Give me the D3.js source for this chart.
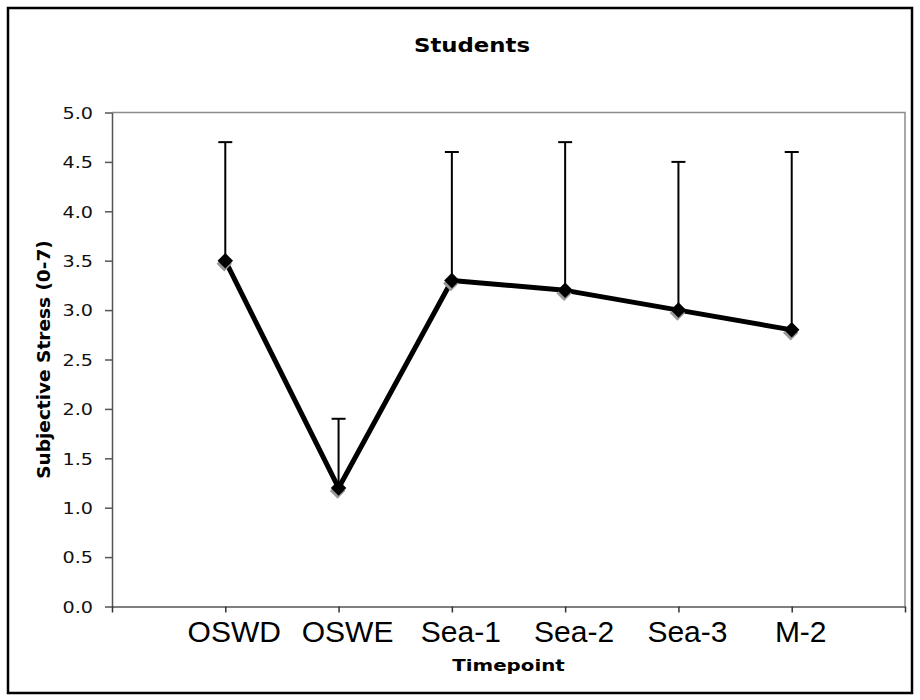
<!DOCTYPE html>
<html>
<head>
<meta charset="utf-8">
<script src="https://cdn.jsdelivr.net/npm/d3@7"></script>
<style>
  html, body { margin: 0; padding: 0; background: #fff; }
  svg { display: block; }
</style>
</head>
<body>
<svg id="chart" width="920" height="700"></svg>
<script>
// Subjective stress ratings for students across timepoints (mean with upper error bar)
const categories = ["OSWD", "OSWE", "Sea-1", "Sea-2", "Sea-3", "M-2"];
const means = [3.5, 1.2, 3.3, 3.2, 3.0, 2.8];
const upper = [4.7, 1.9, 4.6, 4.7, 4.5, 4.6];
const yTickValues = [0, 0.5, 1, 1.5, 2, 2.5, 3, 3.5, 4, 4.5, 5];

const svg = d3.select("#chart");
const W = 920, H = 700;
const plot = { left: 112, right: 905, top: 112.5, bottom: 606.5 };
const verdana = "Verdana, 'DejaVu Sans', sans-serif";
const arial = "Arial, 'Liberation Sans', sans-serif";

// outer frame
svg.append("rect")
  .attr("x", 8).attr("y", 8).attr("width", W - 16).attr("height", H - 15)
  .attr("fill", "#fff").attr("stroke", "#000").attr("stroke-width", 2.5);

// categories sit on integer positions 1..n with one empty slot on each side
const x = d3.scaleLinear().domain([0, categories.length + 1]).range([plot.left, plot.right]);
const y = d3.scaleLinear().domain([0, 5]).range([plot.bottom, plot.top]);

// plot box top and right edges
svg.append("path")
  .attr("d", `M${plot.left},${plot.top}H${plot.right}V${plot.bottom}`)
  .attr("fill", "none").attr("stroke", "#8c8c8c").attr("stroke-width", 1.5);

// y axis
const yAxis = svg.append("g")
  .attr("transform", `translate(${plot.left},0)`)
  .call(d3.axisLeft(y).tickValues(yTickValues).tickFormat(d3.format(".1f"))
    .tickSize(7).tickSizeOuter(0));
yAxis.select(".domain").attr("stroke", "#555").attr("stroke-width", 1.5);
yAxis.selectAll(".tick line").attr("stroke", "#555").attr("stroke-width", 1.5);
yAxis.selectAll(".tick text")
  .attr("x", 0).attr("dy", "0.36em")
  .attr("transform", "translate(-19,0) scale(1.2,1)")
  .attr("font-family", verdana).attr("font-size", 16).attr("fill", "#111")
  .attr("text-anchor", "end");

// x axis (ticks only; labels drawn below)
const xAxis = svg.append("g")
  .attr("transform", `translate(0,${plot.bottom})`)
  .call(d3.axisBottom(x).tickValues(d3.range(0, categories.length + 2))
    .tickSize(6).tickSizeOuter(0).tickFormat(""));
xAxis.select(".domain").attr("stroke", "#555").attr("stroke-width", 1.5);
xAxis.selectAll(".tick line").attr("stroke", "#333").attr("stroke-width", 1.5);

svg.append("g").selectAll("text")
  .data(categories)
  .join("text")
  .attr("x", (d, i) => x(i + 1) + 9)
  .attr("y", 642)
  .attr("text-anchor", "middle")
  .attr("font-family", arial).attr("font-size", 30).attr("fill", "#000")
  .text(d => d);

// error bars (upper only)
const bars = svg.append("g").attr("stroke", "#000").attr("stroke-width", 2);
bars.selectAll("line.stem")
  .data(categories)
  .join("line").attr("class", "stem")
  .attr("x1", (d, i) => x(i + 1)).attr("x2", (d, i) => x(i + 1))
  .attr("y1", (d, i) => y(means[i])).attr("y2", (d, i) => y(upper[i]));
bars.selectAll("line.cap")
  .data(categories)
  .join("line").attr("class", "cap")
  .attr("x1", (d, i) => x(i + 1) - 7).attr("x2", (d, i) => x(i + 1) + 7)
  .attr("y1", (d, i) => y(upper[i])).attr("y2", (d, i) => y(upper[i]));

// mean line
const line = d3.line().x((d, i) => x(i + 1)).y(d => y(d));
svg.append("path")
  .attr("d", line(means))
  .attr("fill", "none").attr("stroke", "#000").attr("stroke-width", 5)
  .attr("stroke-linejoin", "round");

// diamond markers with a soft grey shadow
const diamond = d3.symbol().type(d3.symbolSquare).size(120);
svg.append("g").selectAll("path")
  .data(means)
  .join("path")
  .attr("d", diamond)
  .attr("transform", (d, i) => `translate(${x(i + 1) - 1},${y(d) + 3}) rotate(45)`)
  .attr("fill", "#9a9a9a");
svg.append("g").selectAll("path")
  .data(means)
  .join("path")
  .attr("d", diamond)
  .attr("transform", (d, i) => `translate(${x(i + 1)},${y(d)}) rotate(45)`)
  .attr("fill", "#000");

// titles
svg.append("text")
  .attr("transform", "translate(472,52) scale(1.2,1)")
  .attr("text-anchor", "middle")
  .attr("font-family", verdana).attr("font-size", 19).attr("font-weight", "bold")
  .text("Students");

svg.append("text")
  .attr("transform", `translate(${(plot.left + plot.right) / 2},671) scale(1.2,1)`)
  .attr("text-anchor", "middle")
  .attr("font-family", verdana).attr("font-size", 16.5).attr("font-weight", "bold")
  .text("Timepoint");

svg.append("text")
  .attr("transform", `translate(50,${(plot.top + plot.bottom) / 2}) rotate(-90)`)
  .attr("text-anchor", "middle")
  .attr("font-family", verdana).attr("font-size", 18.5).attr("font-weight", "bold")
  .text("Subjective Stress (0-7)");
</script>
</body>
</html>
